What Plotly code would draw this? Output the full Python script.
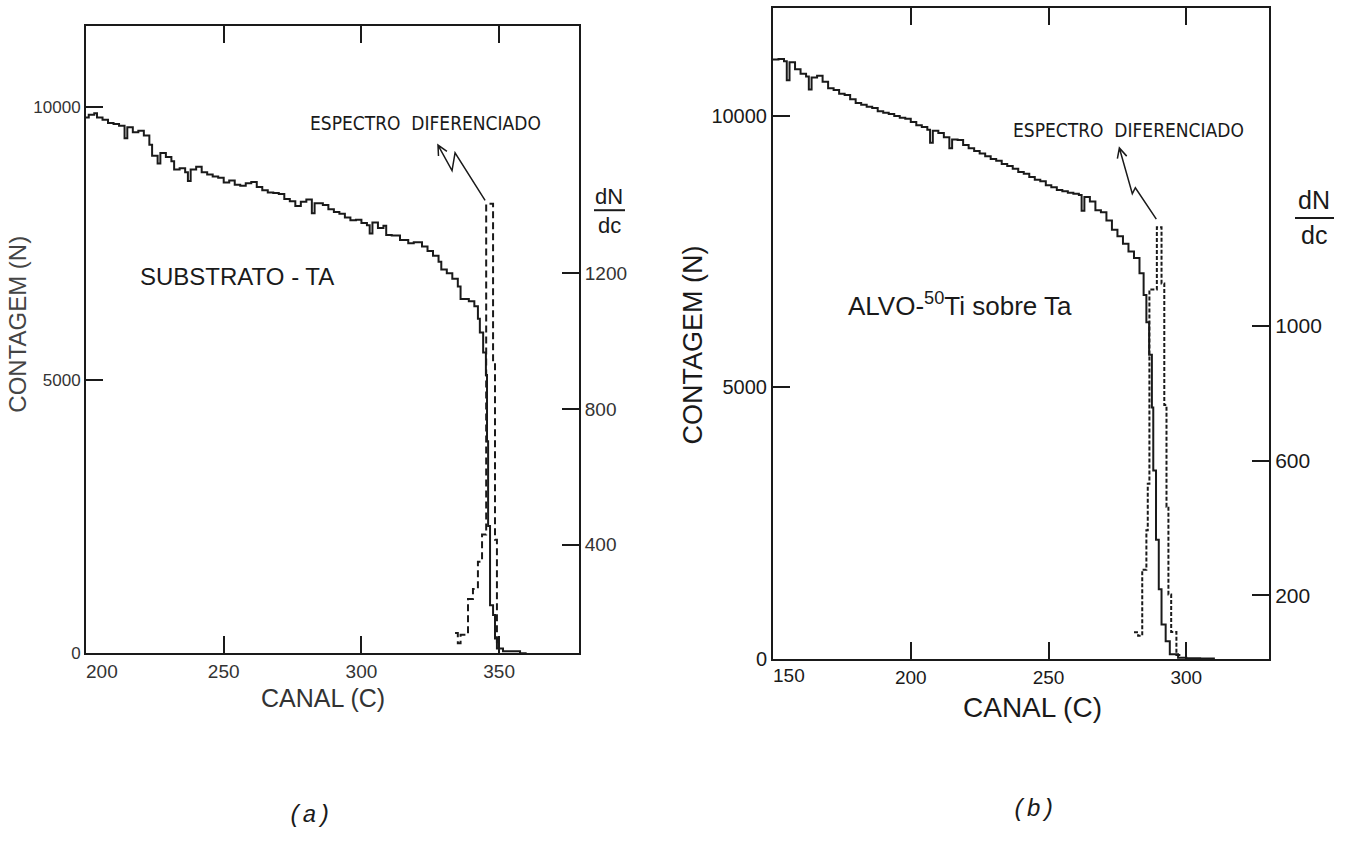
import math
import plotly.graph_objects as go

W, H = 1348, 841

# ---------------- Panel (a): Substrato - Ta ----------------
ch_a = [200, 201, 203, 204, 206, 208, 210, 212, 214, 215, 217, 219, 221, 223, 224, 226, 227, 229,
        231, 232, 234, 236, 237, 238, 240, 242, 244, 246, 248, 250, 252, 254, 256, 258, 260, 262,
        264, 266, 268, 270, 272, 274, 276, 278, 280, 282, 283, 286, 288, 290, 292, 294, 296, 298,
        300, 302, 303, 304, 306, 308, 309, 311, 314, 317, 319, 322, 324, 326, 328, 329, 331, 333,
        335, 336, 339, 341, 342.3, 343, 344.2, 345.2, 345.6, 346, 346.7, 347.8, 348.5, 349.2,
        351.4, 357.6, 360]
n_a = [9800, 9850, 9880, 9800, 9760, 9700, 9680, 9650, 9420, 9620, 9530, 9560, 9470, 9300, 9100,
       8960, 9150, 9080, 9000, 8850, 8870, 8800, 8640, 8850, 8900, 8800, 8760, 8720, 8700, 8610,
       8650, 8570, 8550, 8600, 8620, 8530, 8470, 8430, 8420, 8400, 8310, 8270, 8180, 8260, 8300,
       8050, 8230, 8200, 8120, 8070, 8040, 7970, 7920, 7930, 7870, 7830, 7680, 7880, 7780, 7820,
       7650, 7640, 7560, 7500, 7520, 7440, 7360, 7270, 7160, 7020, 6950, 6850, 6710, 6480, 6440,
       6350, 6120, 5870, 5500, 5090, 3880, 2330, 880, 700, 270, 90, 36, 0, 0]

dch_a = [334, 335, 336, 338.7, 340.5, 342.3, 343.8, 345.3, 347.8, 348.5, 349.2, 350.2]
dv_a = [140, 110, 135, 240, 270, 350, 430, 1405, 935, 415, 105, 105]

# ---------------- Panel (b): Alvo 50Ti sobre Ta ----------------
ch_b = [150, 152, 154, 155, 156, 158, 160, 162, 163, 164, 166, 168, 170, 172, 174, 176, 178, 180,
        182, 184, 186, 188, 190, 192, 194, 196, 198, 200, 202, 204, 206, 207, 208, 210, 212, 214,
        215, 217, 219, 221, 223, 225, 227, 229, 231, 233, 235, 237, 239, 241, 243, 245, 247, 249,
        251, 253, 255, 257, 259, 261, 262, 263, 265, 267, 269, 271, 273, 275, 277, 279, 281, 283,
        284.5, 285.5, 286.5, 287.5, 288, 289, 290, 291, 292.5, 294, 297, 300, 305, 310]
n_b = [11030, 11040, 11000, 10650, 10980, 10850, 10770, 10720, 10480, 10700, 10730, 10620, 10500,
       10470, 10400, 10380, 10300, 10230, 10200, 10160, 10140, 10080, 10050, 10030, 9990, 9960,
       9940, 9880, 9820, 9790, 9740, 9500, 9720, 9680, 9600, 9400, 9560, 9550, 9460, 9400, 9350,
       9300, 9250, 9200, 9170, 9110, 9070, 9020, 8960, 8930, 8870, 8820, 8790, 8720, 8680, 8630,
       8610, 8580, 8560, 8540, 8250, 8500, 8420, 8260, 8220, 8070, 7900, 7780, 7640, 7500, 7380,
       7100, 6700, 6200, 5600, 4630, 3470, 2200, 1290, 640, 330, 90, 30, 20, 15, 0]

dch_b = [281, 282.5, 284, 285.5, 286, 286.6, 289.3, 291, 292, 292.8, 293.5, 294.5, 296.4, 298]
dv_b = [90, 80, 276, 393, 531, 1108, 1293, 1126, 765, 463, 202, 91, 23, 23]

# tick values
xt_a = [200, 250, 300, 350]
yt_a = [0, 5000, 10000]
y2t_a = [400, 800, 1200]
xt_b = [150, 200, 250, 300]
yt_b = [0, 5000, 10000]
y2t_b = [200, 600, 1000]

# axis ranges
xr_a, yr_a, y2r_a = [200, 379], [0, 11480], [80, 1930]
xr_b, yr_b, y2r_b = [150, 330], [0, 11980], [10, 1944]

# plot-area boxes in pixels (left, top, right, bottom)
box_a = (86, 26, 579, 662)
box_b = (773, 8, 1269, 668)

FONT = "Liberation Sans, Arial, sans-serif"
NARROW = "Liberation Sans Narrow, Arial Narrow, DejaVu Sans Condensed, Liberation Sans, sans-serif"
MONO = "Liberation Mono, Courier New, monospace"
INK = "#1a1a1a"


def px(x):
    return x / W


def py(y):
    return 1 - y / H


fig = go.Figure()
fig.add_trace(go.Scatter(x=ch_a, y=n_a, mode="lines", line=dict(color=INK, width=2, shape="hv"),
                         xaxis="x", yaxis="y", showlegend=False))
fig.add_trace(go.Scatter(x=dch_a, y=dv_a, mode="lines",
                         line=dict(color=INK, width=2, shape="hv", dash="7px,4px"),
                         xaxis="x", yaxis="y2", showlegend=False))
fig.add_trace(go.Scatter(x=ch_b, y=n_b, mode="lines", line=dict(color=INK, width=2, shape="hv"),
                         xaxis="x2", yaxis="y3", showlegend=False))
fig.add_trace(go.Scatter(x=dch_b, y=dv_b, mode="lines",
                         line=dict(color=INK, width=2, shape="hv", dash="4px,2px"),
                         xaxis="x2", yaxis="y4", showlegend=False))

common = dict(showgrid=False, zeroline=False, showline=True, linecolor=INK, linewidth=2,
              ticks="inside", ticklen=17, tickwidth=2, tickcolor=INK)

# the first x tick of each panel sits on the box corner; its label is an annotation instead
fig.update_layout(
    width=W, height=H, margin=dict(l=0, r=0, t=0, b=0),
    paper_bgcolor="white", plot_bgcolor="white",
    font=dict(family=FONT, color=INK),
    xaxis=dict(domain=[px(box_a[0]), px(box_a[2])], range=xr_a, anchor="y", tickvals=xt_a[1:],
               mirror="ticks", tickfont=dict(size=19, color="#333"), **common),
    yaxis=dict(domain=[py(box_a[3]), py(box_a[1])], range=yr_a, anchor="x", tickvals=yt_a,
               tickformat="d", mirror=True, tickfont=dict(size=17, color="#333"), **common),
    yaxis2=dict(overlaying="y", side="right", anchor="x", range=y2r_a, tickvals=y2t_a,
                tickfont=dict(size=19, color="#333"), **common),
    xaxis2=dict(domain=[px(box_b[0]), px(box_b[2])], range=xr_b, anchor="y3", tickvals=xt_b[1:],
                mirror="ticks", tickfont=dict(size=19), **common),
    yaxis3=dict(domain=[py(box_b[3]), py(box_b[1])], range=yr_b, anchor="x2", tickvals=yt_b,
                tickformat="d", mirror=True, tickfont=dict(size=20), **common),
    yaxis4=dict(overlaying="y3", side="right", anchor="x2", range=y2r_b, tickvals=y2t_b,
                tickfont=dict(size=21), **common),
)

ann = []


def txt(x, y, s, size, color=INK, family=FONT, angle=0, xanchor="center"):
    ann.append(dict(x=px(x), y=py(y), xref="paper", yref="paper", text=s, showarrow=False,
                    font=dict(size=size, color=color, family=family), textangle=angle,
                    xanchor=xanchor, yanchor="middle"))


# first tick labels (anchored to the axis value, just right of the corner)
ann.append(dict(x=xt_a[0], y=py(680), xref="x", yref="paper", text=str(xt_a[0]),
                showarrow=False, xanchor="left", yanchor="middle", xshift=-2,
                font=dict(size=19, color="#333", family=FONT)))
ann.append(dict(x=xt_b[0], y=py(684), xref="x2", yref="paper", text=str(xt_b[0]),
                showarrow=False, xanchor="left", yanchor="middle", xshift=-2,
                font=dict(size=19, color=INK, family=FONT)))

# panel a texts
txt(323, 707, "CANAL (C)", 25, color="#333")
txt(18, 329, "CONTAGEM (N)", 24, color="#444", angle=-90)
txt(308, 125, "ESPECTRO  DIFERENCIADO", 19, family=NARROW, xanchor="left")
txt(138, 280, "SUBSTRATO - TA", 24, xanchor="left")
txt(609, 199, "dN", 22)
txt(609, 228, "dc", 22)
txt(309, 826, "<i>(a)</i>", 24, family=MONO)

# panel b texts
txt(1032, 717, "CANAL (C)", 28)
txt(693, 350, "CONTAGEM (N)", 27, angle=-90)
txt(1011, 132, "ESPECTRO  DIFERENCIADO", 19, family=NARROW, xanchor="left")
txt(846, 309, "ALVO-<sup>50</sup>Ti sobre Ta", 26, xanchor="left")
txt(1314, 203, "dN", 25)
txt(1314, 238, "dc", 25)
txt(1033, 820, "<i>(b)</i>", 24, family=MONO)

fig.update_layout(annotations=ann)


def arrow_path(pts, box, xr, yr, head_len=11, half_angle=26):
    """Polyline through data points pts, ending with an open arrowhead at the last point."""
    sx = (box[2] - box[0]) / (xr[1] - xr[0])
    sy = (box[3] - box[1]) / (yr[1] - yr[0])
    (x1, y1), (x2, y2) = pts[-2], pts[-1]
    dxp, dyp = (x2 - x1) * sx, -(y2 - y1) * sy
    L = math.hypot(dxp, dyp)
    ux, uy = dxp / L, dyp / L
    wings = []
    for s in (1, -1):
        a = math.radians(s * half_angle)
        rx = ux * math.cos(a) - uy * math.sin(a)
        ry = ux * math.sin(a) + uy * math.cos(a)
        wx = x2 - head_len * rx / sx
        wy = y2 + head_len * ry / sy
        wings.append((wx, wy))
    d = "M " + " L ".join(f"{x},{y}" for x, y in pts)
    d += f" M {wings[0][0]},{wings[0][1]} L {x2},{y2} L {wings[1][0]},{wings[1][1]}"
    return d


arrow_a = [(344.9, 1415), (334.0, 1555), (332.9, 1503), (327.8, 1578)]
arrow_b = [(289.1, 1317), (281.5, 1410), (280.4, 1392), (275.7, 1528)]

shapes = [
    dict(type="path", xref="x", yref="y2", path=arrow_path(arrow_a, box_a, xr_a, y2r_a),
         line=dict(color=INK, width=1.5)),
    dict(type="path", xref="x2", yref="y4", path=arrow_path(arrow_b, box_b, xr_b, y2r_b),
         line=dict(color=INK, width=1.5)),
    dict(type="line", xref="paper", yref="paper", x0=px(594), x1=px(625), y0=py(213), y1=py(213),
         line=dict(color=INK, width=2)),
    dict(type="line", xref="paper", yref="paper", x0=px(1295), x1=px(1334), y0=py(221),
         y1=py(221), line=dict(color=INK, width=2)),
]
fig.update_layout(shapes=shapes)

fig.write_html("out.html")
